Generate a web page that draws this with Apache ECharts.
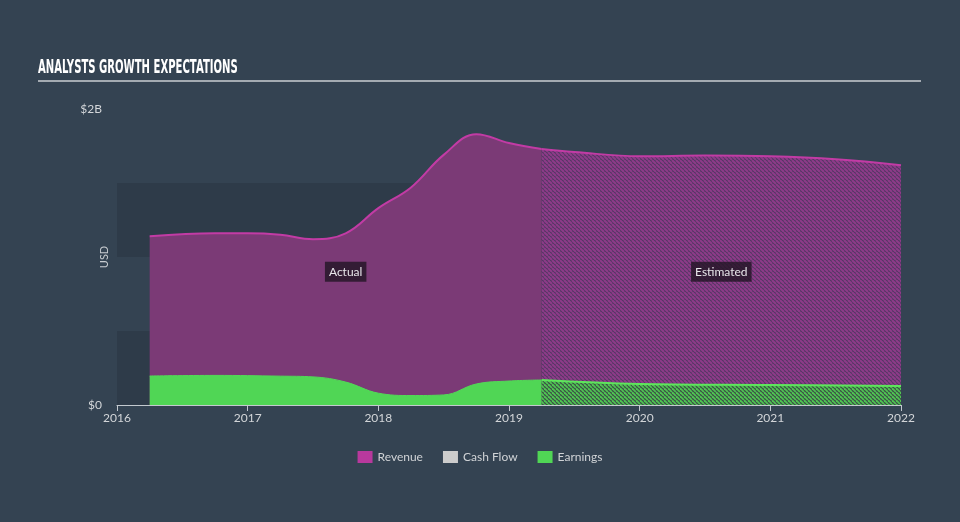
<!DOCTYPE html>
<html>
<head>
<meta charset="utf-8">
<script src="https://cdn.jsdelivr.net/npm/echarts@6/dist/echarts.min.js"></script>
<style>
html,body{margin:0;padding:0;background:#344352;}
#chart{width:960px;height:522px;}
</style>
</head>
<body>
<div id="chart"></div>
<script>
// Values in USD billions, x as fractional year
const revenueActual = [
  [2016.25, 1.14], [2016.75, 1.16], [2017.0, 1.16], [2017.25, 1.15], [2017.5, 1.12],
  [2017.75, 1.16], [2018.0, 1.33], [2018.25, 1.47], [2018.5, 1.69], [2018.75, 1.83],
  [2019.0, 1.77], [2019.25, 1.73]
];
const revenueEstimate = [
  [2019.25, 1.73], [2019.5, 1.71], [2020.0, 1.68], [2020.5, 1.685], [2021.0, 1.68],
  [2021.5, 1.66], [2022.0, 1.62]
];
const earningsActual = [
  [2016.25, 0.196], [2016.75, 0.2], [2017.25, 0.195], [2017.5, 0.19], [2017.75, 0.155],
  [2018.0, 0.08], [2018.25, 0.064], [2018.5, 0.068], [2018.75, 0.142], [2019.0, 0.162],
  [2019.25, 0.169]
];
const earningsEstimate = [
  [2019.25, 0.169], [2020.0, 0.142], [2021.0, 0.135], [2022.0, 0.128]
];
const legendNames = ['Revenue', 'Cash Flow', 'Earnings'];
const yTickLabels = {0: '$0', 2: '$2B'};
const titleText = 'ANALYSTS GROWTH EXPECTATIONS';
const yAxisName = 'USD';
const actualLabel = 'Actual';
const estimatedLabel = 'Estimated';

function hatch(bg, fg, lw) {
  const s = 4;
  const c = document.createElement('canvas');
  c.width = s; c.height = s;
  const g = c.getContext('2d');
  g.fillStyle = bg; g.fillRect(0, 0, s, s);
  g.strokeStyle = fg; g.lineWidth = lw;
  for (let i = -1; i <= 1; i++) {
    g.beginPath();
    g.moveTo(i * s, 0);
    g.lineTo(i * s + s, s);
    g.stroke();
  }
  return {image: c, repeat: 'repeat'};
}

const chart = echarts.init(document.getElementById('chart'), null, {renderer: 'canvas'});
const fontFam = 'Lato, "Open Sans", sans-serif';

chart.setOption({
  backgroundColor: '#344352',
  animation: false,
  grid: {left: 117, right: 59, top: 109, bottom: 117},
  legend: {
    data: legendNames,
    top: 446, left: 'center',
    icon: 'rect', itemWidth: 15, itemHeight: 12, itemGap: 20,
    textStyle: {color: '#d0d3d6', fontSize: 12, fontFamily: fontFam}
  },
  xAxis: {
    type: 'value', min: 2016, max: 2022, interval: 1,
    axisLine: {show: true, lineStyle: {color: '#c3c9cf', width: 1}},
    axisTick: {show: true, length: 6, lineStyle: {color: '#c3c9cf'}},
    axisLabel: {color: '#d3d6d9', fontSize: 12, margin: 7, fontFamily: fontFam,
      formatter: v => String(v)},
    splitLine: {show: false}
  },
  yAxis: {
    type: 'value', min: 0, max: 2, interval: 0.5,
    axisLine: {show: false}, axisTick: {show: false},
    axisLabel: {color: '#d3d6d9', fontSize: 12, margin: 15, fontFamily: fontFam,
      formatter: v => (yTickLabels[v] !== undefined ? yTickLabels[v] : '')},
    splitLine: {show: false},
    splitArea: {show: true, areaStyle: {color: ['#2e3b49', 'rgba(0,0,0,0)']}}
  },
  series: [
    {
      name: 'Revenue', type: 'line', data: revenueActual, smooth: 0.4,
      symbol: 'none', itemStyle: {color: '#b8399d'},
      lineStyle: {color: '#c23ba5', width: 2},
      areaStyle: {color: '#7b3a76', opacity: 1}, z: 2
    },
    {
      name: 'Revenue', type: 'line', data: revenueEstimate, smooth: 0.4,
      symbol: 'none', itemStyle: {color: '#b8399d'},
      lineStyle: {color: '#c23ba5', width: 2},
      areaStyle: {color: hatch('#523862', '#8e3b89', 2), opacity: 1}, z: 2
    },
    {
      name: 'Cash Flow', type: 'line', data: [], symbol: 'none',
      itemStyle: {color: '#cccccc'}
    },
    {
      name: 'Earnings', type: 'line', data: earningsActual, smooth: 0.4,
      symbol: 'none', itemStyle: {color: '#50d655'},
      lineStyle: {color: '#52d957', width: 1},
      areaStyle: {color: '#50d655', opacity: 1}, z: 3
    },
    {
      name: 'Earnings', type: 'line', data: earningsEstimate, smooth: 0.4,
      symbol: 'none', itemStyle: {color: '#50d655'},
      lineStyle: {color: '#5ee65c', width: 2},
      areaStyle: {color: hatch('#3c5048', '#4fc452', 1.8), opacity: 1}, z: 3
    }
  ]
});

const aMid = (revenueActual[0][0] + revenueActual[revenueActual.length - 1][0]) / 2;
const eMid = (revenueEstimate[0][0] + revenueEstimate[revenueEstimate.length - 1][0]) / 2;
const pA = chart.convertToPixel({gridIndex: 0}, [aMid, 0.9]);
const pE = chart.convertToPixel({gridIndex: 0}, [eMid, 0.9]);
const pY = chart.convertToPixel({gridIndex: 0}, [2016, 1.0]);
function tag(text, p) {
  return {
    type: 'text', x: p[0], y: p[1], z: 100,
    style: {
      text: text, fill: '#e8e6ea', fontSize: 12, fontFamily: fontFam,
      align: 'center', verticalAlign: 'middle',
      backgroundColor: 'rgba(35,22,38,0.82)', padding: [4, 4, 4, 4]
    }
  };
}
chart.setOption({
  graphic: [
    {type: 'text', x: 38, y: 68, scaleX: 0.53, scaleY: 1, z: 100,
      style: {text: titleText, fill: '#ffffff', fontSize: 19, fontWeight: 'bold',
        fontFamily: '"DejaVu Sans", sans-serif', align: 'left', verticalAlign: 'middle'}},
    {type: 'rect', shape: {x: 38, y: 80, width: 883, height: 2},
      style: {fill: '#a4abb2'}},
    {type: 'text', x: pY[0] - 13, y: pY[1], rotation: Math.PI / 2, z: 100,
      style: {text: yAxisName, fill: '#c8ccd0', fontSize: 11, fontFamily: fontFam,
        align: 'center', verticalAlign: 'middle'}},
    tag(actualLabel, pA),
    tag(estimatedLabel, pE)
  ]
});
</script>
</body>
</html>
